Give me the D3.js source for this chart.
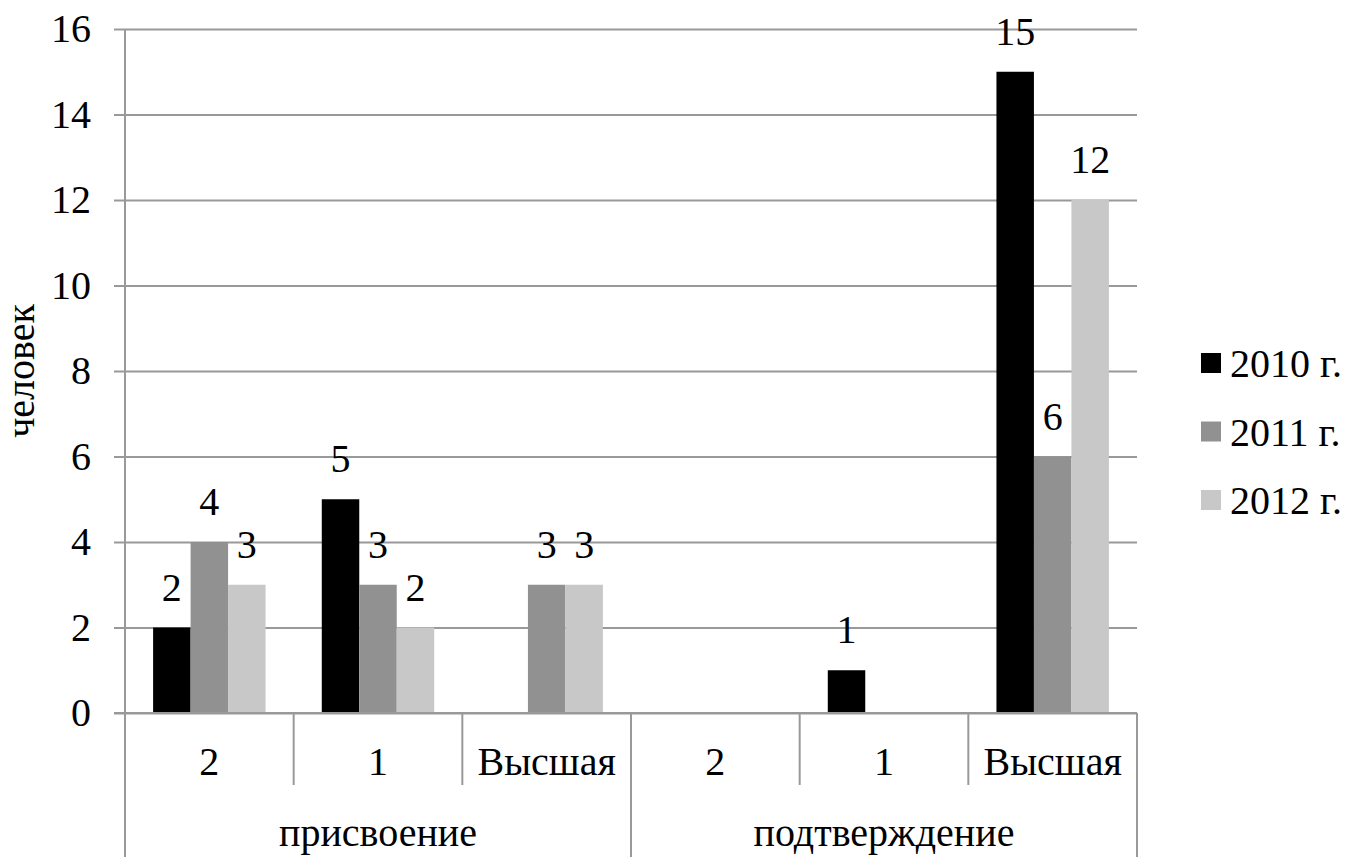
<!DOCTYPE html>
<html>
<head>
<meta charset="utf-8">
<script src="https://cdn.jsdelivr.net/npm/d3@7"></script>
</head>
<body style="margin:0">
<svg id="chart" width="1347" height="857" font-family="Times New Roman"></svg>
<script>
// ---- data ----
const level1 = ["2", "1", "Высшая", "2", "1", "Высшая"];
const level2 = ["присвоение", "подтверждение"];
const level2Span = [3, 3];
const seriesNames = ["2010 г.", "2011 г.", "2012 г."];
const values2010 = [2, 5, 0, 0, 1, 15];
const values2011 = [4, 3, 3, 0, 0, 6];
const values2012 = [3, 2, 3, 0, 0, 12];
const yTicks = [0, 2, 4, 6, 8, 10, 12, 14, 16];
const yTitle = "человек";
const colors = ["#000000", "#919191", "#c8c8c8"];

const seriesValues = [values2010, values2011, values2012];

const svg = d3.select("#chart");
const pLeft = 125, pRight = 1137, pTop = 29, pBottom = 713;
const gridColor = "#999999";

function txt(sel) {
  return sel.attr("font-family", "Times New Roman").attr("font-size", 40).attr("fill", "#000");
}

const x0 = d3.scaleBand().domain(d3.range(level1.length)).range([pLeft, pRight]).padding(0);
const bw = x0.bandwidth();
const barW = bw / 4.5;
const x1 = d3.scaleBand().domain(d3.range(seriesNames.length))
  .range([0.75 * barW, 3.75 * barW]).padding(0);
const y = d3.scaleLinear().domain([0, 16]).range([pBottom, pTop]);

// gridlines + tick marks via axis (labels drawn separately)
const yAxis = d3.axisLeft(y).tickValues(yTicks).tickSize(pRight - pLeft + 11).tickFormat("");
const gAxis = svg.append("g").attr("transform", `translate(${pRight},0)`).call(yAxis);
gAxis.attr("font-family", "Times New Roman");
gAxis.select(".domain").remove();
gAxis.selectAll(".tick text").remove();
gAxis.selectAll(".tick line").attr("stroke", gridColor).attr("stroke-width", 2);

// y tick labels
yTicks.forEach(t => {
  txt(svg.append("text")).attr("x", 91).attr("y", y(t)).attr("dy", "0.33em")
    .attr("text-anchor", "end").text(String(t));
});

// bars
seriesValues.forEach((vals, si) => {
  svg.append("g").selectAll("rect").data(vals).join("rect")
    .attr("x", (d, i) => x0(i) + x1(si))
    .attr("width", x1.bandwidth())
    .attr("y", d => y(d))
    .attr("height", d => y(0) - y(d))
    .attr("fill", colors[si]);
});

// baseline redraw on top
svg.append("line").attr("x1", pLeft - 11).attr("x2", pRight).attr("y1", y(0)).attr("y2", y(0))
  .attr("stroke", gridColor).attr("stroke-width", 2);

// data labels
seriesValues.forEach((vals, si) => {
  vals.forEach((v, i) => {
    if (v > 0) {
      txt(svg.append("text")).attr("x", x0(i) + x1(si) + x1.bandwidth() / 2)
        .attr("y", y(v) - 27).attr("text-anchor", "middle").text(String(v));
    }
  });
});

// category axis separators
const lvl1Bottom = 785, lvl2Bottom = 857;
const boundaries = d3.range(level1.length + 1).map(i => i < level1.length ? x0(i) : pRight);
let acc = 0;
const lvl2Bounds = [0];
level2Span.forEach(s => { acc += s; lvl2Bounds.push(acc); });
boundaries.forEach((bx, i) => {
  const isL2 = lvl2Bounds.includes(i);
  svg.append("line").attr("x1", bx).attr("x2", bx).attr("y1", i === 0 ? pTop : pBottom)
    .attr("y2", isL2 ? lvl2Bottom : lvl1Bottom)
    .attr("stroke", gridColor).attr("stroke-width", 2);
});

// level-1 labels
level1.forEach((d, i) => {
  txt(svg.append("text")).attr("x", x0(i) + bw / 2).attr("y", 775)
    .attr("text-anchor", "middle").text(d);
});

// level-2 labels
level2.forEach((d, i) => {
  txt(svg.append("text"))
    .attr("x", (boundaries[lvl2Bounds[i]] + boundaries[lvl2Bounds[i + 1]]) / 2)
    .attr("y", 846).attr("text-anchor", "middle").text(d);
});

// y title
txt(svg.append("text"))
  .attr("transform", `translate(34, ${(pTop + pBottom) / 2}) rotate(-90)`)
  .attr("text-anchor", "middle")
  .text(yTitle);

// legend
seriesNames.forEach((name, i) => {
  const cy = 363 + i * 68.5;
  svg.append("rect").attr("x", 1201).attr("y", cy - 10).attr("width", 20).attr("height", 20).attr("fill", colors[i]);
  txt(svg.append("text")).attr("x", 1230).attr("y", cy).attr("dy", "0.35em").text(name);
});
</script>
</body>
</html>
